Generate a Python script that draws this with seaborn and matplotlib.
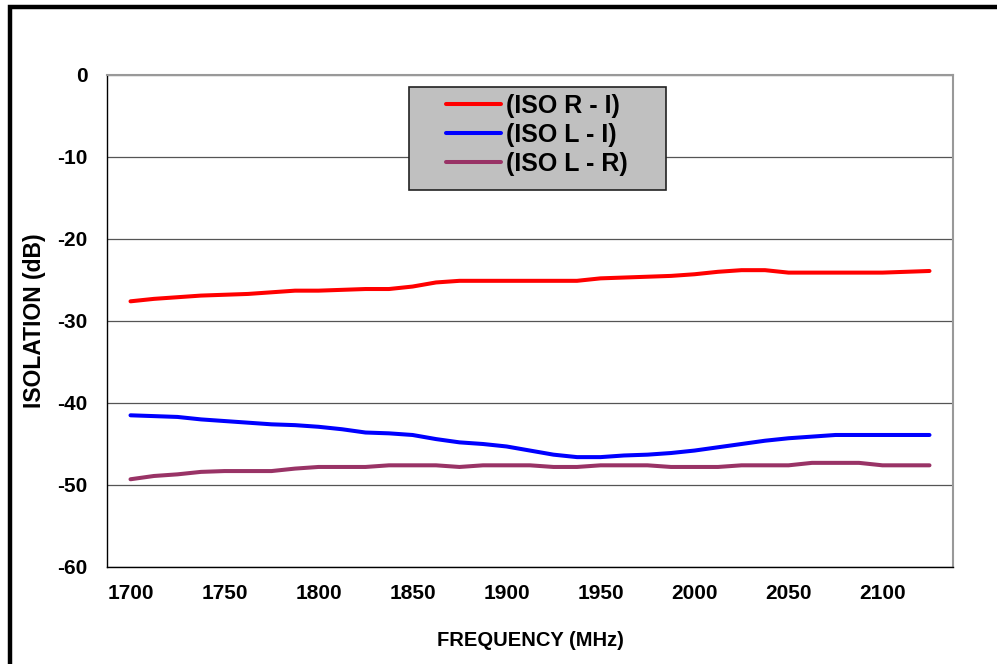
import numpy as np
import pandas as pd
import matplotlib
matplotlib.use('Agg')
import matplotlib.pyplot as plt
import seaborn as sns
from matplotlib.patches import Rectangle
from matplotlib.ticker import FixedLocator

# Frequency points (MHz)
freq = [1700, 1712.5, 1725, 1737.5, 1750, 1762.5, 1775, 1787.5, 1800, 1812.5,
        1825, 1837.5, 1850, 1862.5, 1875, 1887.5, 1900, 1912.5, 1925, 1937.5,
        1950, 1962.5, 1975, 1987.5, 2000, 2012.5, 2025, 2037.5, 2050, 2062.5,
        2075, 2087.5, 2100, 2112.5, 2125]

# Isolation readings (dB)
iso_r_i = [-27.6, -27.3, -27.1, -26.9, -26.8, -26.7, -26.5, -26.3, -26.3, -26.2,
           -26.1, -26.1, -25.8, -25.3, -25.1, -25.1, -25.1, -25.1, -25.1, -25.1,
           -24.8, -24.7, -24.6, -24.5, -24.3, -24.0, -23.8, -23.8, -24.1, -24.1,
           -24.1, -24.1, -24.1, -24.0, -23.9]
iso_l_i = [-41.5, -41.6, -41.7, -42.0, -42.2, -42.4, -42.6, -42.7, -42.9, -43.2,
           -43.6, -43.7, -43.9, -44.4, -44.8, -45.0, -45.3, -45.8, -46.3, -46.6,
           -46.6, -46.4, -46.3, -46.1, -45.8, -45.4, -45.0, -44.6, -44.3, -44.1,
           -43.9, -43.9, -43.9, -43.9, -43.9]
iso_l_r = [-49.3, -48.9, -48.7, -48.4, -48.3, -48.3, -48.3, -48.0, -47.8, -47.8,
           -47.8, -47.6, -47.6, -47.6, -47.8, -47.6, -47.6, -47.6, -47.8, -47.8,
           -47.6, -47.6, -47.6, -47.8, -47.8, -47.8, -47.6, -47.6, -47.6, -47.3,
           -47.3, -47.3, -47.6, -47.6, -47.6]

series_names = ['(ISO R - I)', '(ISO L - I)', '(ISO L - R)']
series_colors = ['#FF0000', '#0000FF', '#993366']

x_labels = [1700, 1750, 1800, 1850, 1900, 1950, 2000, 2050, 2100]
y_ticks = [-60, -50, -40, -30, -20, -10, 0]

df = pd.DataFrame({
    'freq': freq * 3,
    'iso': iso_r_i + iso_l_i + iso_l_r,
    'series': [series_names[0]] * len(freq) + [series_names[1]] * len(freq)
              + [series_names[2]] * len(freq),
})

sns.set_style('white')
plt.rcParams['font.family'] = ['Liberation Sans', 'DejaVu Sans']
plt.rcParams['font.weight'] = 'bold'
plt.rcParams['text.color'] = 'black'
plt.rcParams['axes.labelcolor'] = 'black'
plt.rcParams['xtick.color'] = 'black'
plt.rcParams['ytick.color'] = 'black'

W, H = 997, 664
fig = plt.figure(figsize=(W / 100, H / 100), dpi=100)
ax = fig.add_axes([107 / W, 1 - 567 / H, (953 - 107) / W, (567 - 75) / H])

sns.lineplot(data=df, x='freq', y='iso', hue='series', hue_order=series_names,
             palette=series_colors, linewidth=2.9, ax=ax, legend=False, zorder=5)

ax.set_xlim(1687.5, 2137.5)
ax.set_ylim(-60, 0)

# labels sit between the tick marks, like an Excel category axis
ax.xaxis.set_major_locator(FixedLocator(x_labels))
ax.xaxis.set_minor_locator(FixedLocator(np.arange(1687.5, 2140, 25)))
ax.set_yticks(y_ticks)
ax.tick_params(axis='x', which='major', length=0, pad=12, labelsize=15)
ax.tick_params(axis='x', which='minor', length=5, width=0.8, color='black', direction='out')
ax.tick_params(axis='y', which='major', length=5, width=0.8, color='black',
               direction='out', pad=9, labelsize=15)
ax.set_xticklabels([str(v) for v in x_labels], fontweight='bold')
ax.set_yticklabels([str(v) for v in y_ticks], fontweight='bold')

ax.yaxis.grid(True, color='#555555', linewidth=0.9)
ax.xaxis.grid(False)
for side in ['left', 'bottom']:
    ax.spines[side].set_color('black')
    ax.spines[side].set_linewidth(1.0)
for side in ['top', 'right']:
    ax.spines[side].set_color('#999999')
    ax.spines[side].set_linewidth(1.5)

ax.set_xlabel('FREQUENCY (MHz)', fontsize=14.5, fontweight='bold')
ax.set_ylabel('ISOLATION (dB)', fontsize=16.5, fontweight='bold')
ax.xaxis.set_label_coords(0.5, (567 - 631) / 492)
ax.yaxis.set_label_coords((46 - 107) / 846, 0.5)

# grey legend box, drawn inside the axes so the legend sits on top of it
box = Rectangle((409 / W, 1 - 190 / H), (666 - 409) / W, (190 - 87) / H,
                transform=fig.transFigure, facecolor='#C0C0C0',
                edgecolor='#222222', linewidth=1.2, zorder=8, clip_on=False)
ax.add_patch(box)
leg = ax.legend(ax.lines[:3], series_names, loc='upper left',
                bbox_to_anchor=(446 / W, 1 - 93.5 / H), bbox_transform=fig.transFigure,
                frameon=False, borderpad=0, borderaxespad=0, handlelength=2.2,
                handletextpad=0.2, labelspacing=0.21,
                prop={'size': 18, 'weight': 'bold'})
leg.set_zorder(10)

# thick outer frame (only top and left edges inside the image)
fig.patches.append(Rectangle((10 / W, -0.5), 1.5, 1.5 - 7 / H, transform=fig.transFigure,
                             fill=False, edgecolor='black', linewidth=3.2))

fig.savefig('out.png', dpi=100)
